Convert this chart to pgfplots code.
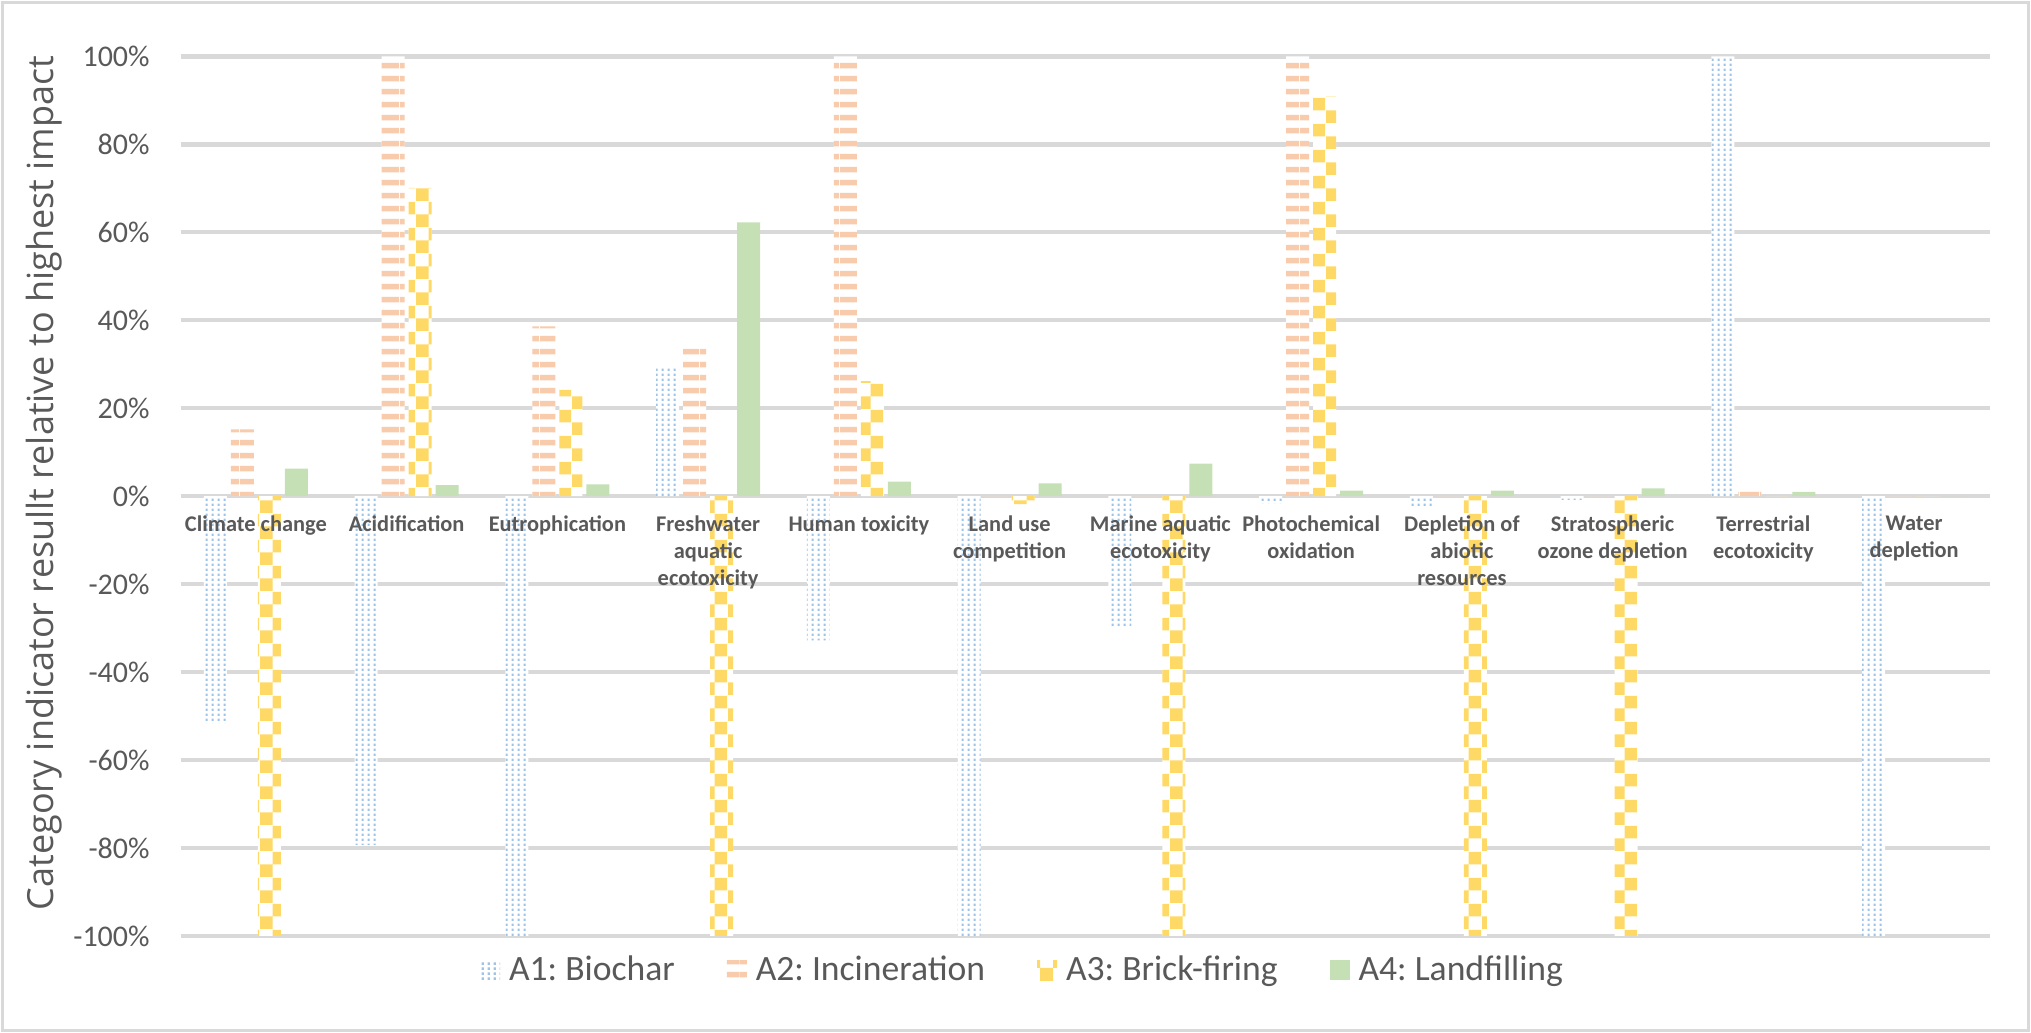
\documentclass[border=0pt]{standalone}
\usepackage{pgfplots}
\pgfplotsset{compat=1.18}
\usetikzlibrary{patterns}
\usepackage{fontspec}
\setmainfont{Carlito}
\newfontfamily\ylabfont{Open Sans}
\frenchspacing
\definecolor{gridgray}{HTML}{D9D9D9}
\definecolor{txtgray}{HTML}{595959}
\definecolor{a1blue}{HTML}{9DC3E6}
\definecolor{a2salmon}{HTML}{F8CBAD}
\definecolor{a3gold}{HTML}{FFD966}
\definecolor{a4green}{HTML}{C5E0B4}

\pgfdeclarepatternformonly{biodots}{\pgfpointorigin}{\pgfpoint{3pt}{2.4pt}}{\pgfpoint{3pt}{2.4pt}}{%
  \pgfpathrectangle{\pgfpoint{0.9pt}{0.6pt}}{\pgfpoint{1.2pt}{1.2pt}}\pgfusepath{fill}}
\pgfdeclarepatternformonly{incstripes}{\pgfpointorigin}{\pgfpoint{10pt}{6.65pt}}{\pgfpoint{10pt}{6.65pt}}{%
  \pgfpathrectangle{\pgfpoint{0pt}{1.9pt}}{\pgfpoint{10pt}{2.85pt}}\pgfusepath{fill}}
\pgfdeclarepatternformonly{bigchecker}{\pgfpointorigin}{\pgfpoint{13pt}{13pt}}{\pgfpoint{13pt}{13pt}}{%
  \pgfpathrectangle{\pgfpointorigin}{\pgfpoint{6.5pt}{6.5pt}}%
  \pgfpathrectangle{\pgfpoint{6.5pt}{6.5pt}}{\pgfpoint{6.5pt}{6.5pt}}\pgfusepath{fill}}

\pgfplotsset{
  /pgfplots/layers/mylayers/.define layer set={axis background,axis grid,axis ticks,axis lines,main,axis tick labels,axis descriptions,axis foreground}{
    grid style={/pgfplots/on layer=axis grid},
    tick style={/pgfplots/on layer=axis ticks},
    axis line style={/pgfplots/on layer=axis lines},
    label style={/pgfplots/on layer=axis descriptions},
    legend style={/pgfplots/on layer=axis descriptions},
    title style={/pgfplots/on layer=axis descriptions},
    colorbar style={/pgfplots/on layer=axis descriptions},
    ticklabel style={/pgfplots/on layer=axis tick labels},
    axis background@ style={/pgfplots/on layer=axis background},
    3d box foreground style={/pgfplots/on layer=axis foreground},
  },
}

\begin{document}
\begin{tikzpicture}
\path (0,0) rectangle (1015.5pt,516.5pt);
\draw[gridgray, line width=1.5pt] (1.4pt,1.3pt) rectangle (1014.1pt,515.0pt);
\begin{axis}[
  set layers=mylayers,
  at={(90.25pt,48.5pt)}, anchor=south west,
  scale only axis, width=904.5pt, height=439.75pt,
  xmin=-0.5, xmax=11.5, ymin=-100, ymax=100,
  clip=false,
  axis x line*=middle, axis y line*=left,
  y axis line style={draw=none},
  x axis line style={draw=gridgray, line width=2.1pt},
  ymajorgrids, grid style={draw=gridgray, line width=2.1pt},
  major tick length=0pt,
  xtick={0,1,2,3,4,5,6,7,8,9,10,11},
  xticklabels={Climate change, Acidification, Eutrophication, {Freshwater\\aquatic\\ecotoxicity}, Human toxicity, {Land use\\competition}, {Marine aquatic\\ecotoxicity}, {Photochemical\\oxidation}, {Depletion of\\abiotic\\resources}, {Stratospheric\\ozone depletion}, {Terrestrial\\ecotoxicity}, {Water\\depletion}},
  xticklabel style={font=\fontsize{11.2}{13.3}\selectfont\bfseries, text=txtgray, align=center, anchor=north, inner sep=0pt, yshift=-9.75pt},
  ytick={-100,-80,-60,-40,-20,0,20,40,60,80,100},
  yticklabels={-100\%,-80\%,-60\%,-40\%,-20\%,0\%,20\%,40\%,60\%,80\%,100\%},
  yticklabel style={font=\fontsize{15}{18}\selectfont, text=txtgray, anchor=east, inner sep=0pt, xshift=-15.25pt},
  ylabel={Category indicator resullt relative to highest impact},
  every axis y label/.style={at={(axis description cs:-0.07546,0.515)}, anchor=center, rotate=90, font=\ylabfont\fontsize{18}{21}\selectfont, text=txtgray},
  ybar=2pt, bar width=11.5pt,
  legend style={at={(axis description cs:0.4649,-0.0387)}, anchor=center, draw=none, fill=none, legend columns=-1, font=\fontsize{17.8}{21}\selectfont, text=txtgray, /tikz/every even column/.append style={column sep=26pt}, /tikz/every odd column/.append style={column sep=4.5pt}, nodes={inner sep=0pt}},
  legend image code/.code={\draw[#1, draw=none] (0pt,-5pt) rectangle (10pt,5pt);},
]
\addplot[fill=white, draw=none, postaction={pattern=biodots, pattern color=a1blue}] coordinates {(0,-51.6) (1,-79.3) (2,-100) (3,29.3) (4,-32.8) (5,-100) (6,-29.6) (7,-1.6) (8,-2.4) (9,-0.8) (10,100) (11,-100)};
\addplot[fill=white, draw=none, postaction={pattern=incstripes, pattern color=a2salmon}] coordinates {(0,15.2) (1,100) (2,38.6) (3,33.6) (4,100) (5,0) (6,0) (7,100) (8,0) (9,0) (10,2.4) (11,0)};
\addplot[fill=white, draw=none, postaction={pattern=bigchecker, pattern color=a3gold}] coordinates {(0,-100) (1,70.1) (2,24.2) (3,-100) (4,26.2) (5,-1.8) (6,-100) (7,90.9) (8,-100) (9,-100) (10,0) (11,0)};
\addplot[fill=a4green, draw=none] coordinates {(0,6.3) (1,2.5) (2,2.7) (3,62.3) (4,3.3) (5,2.9) (6,7.4) (7,1.25) (8,1.25) (9,1.8) (10,1.0) (11,0)};
\legend{A1: Biochar, A2: Incineration, A3: Brick-firing, A4: Landfilling}
\end{axis}
\end{tikzpicture}
\end{document}
